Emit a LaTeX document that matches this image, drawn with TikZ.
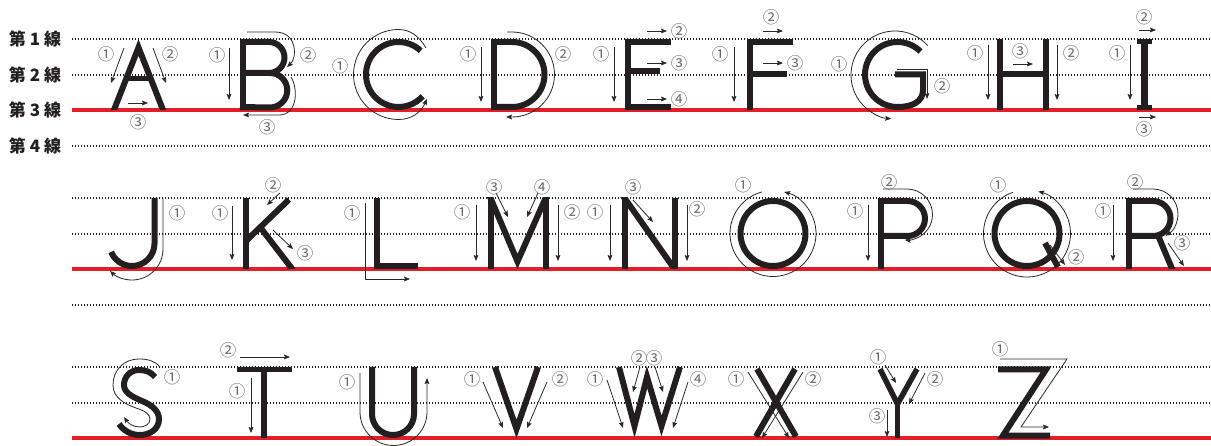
\documentclass[tikz,border=0pt]{standalone}
\usepackage{fontspec}
\newfontfamily\cjk{Noto Sans CJK JP}[WordSpace=2.0]
\newfontfamily\circfont{Noto Sans CJK JP}
\usetikzlibrary{arrows.meta}
\definecolor{ink}{RGB}{35,31,32}
\definecolor{guidered}{RGB}{228,30,38}
\definecolor{numgray}{RGB}{105,105,105}
\definecolor{arrgray}{RGB}{40,40,40}
\begin{document}
\begin{tikzpicture}[x=1pt,y=-1pt,
  guide/.style={line width=1.2pt, draw=ink, dash pattern=on 1.2pt off 1.8pt},
  redline/.style={line width=3.2pt, draw=guidered},
  letter/.style={line width=6pt, draw=ink, line join=miter},
  arr/.style={line width=0.8pt, draw=arrgray, -{Stealth[length=6pt,width=4.8pt,inset=1pt]}},
  num/.style={font=\circfont\fontsize{16.5}{16.5}\selectfont, text=numgray, inner sep=0pt},
  rowlab/.style={font=\cjk\bfseries\fontsize{17}{17}\selectfont, text=ink, inner sep=0pt}]
\useasboundingbox (0,0) rectangle (1211,446);
% guide lines
\foreach \yy in {39,75,146,198,234,305,367,403} \draw[guide] (72,\yy) -- (1211,\yy);
\foreach \yy in {110,269,438} \draw[redline] (72,\yy) -- (1211,\yy);
% row labels
\node[rowlab] (lab1) at (35,39) {第 1 線};
\node[rowlab] (lab2) at (35,75) {第 2 線};
\node[rowlab] (lab3) at (35,110) {第 3 線};
\node[rowlab] (lab4) at (35,146) {第 4 線};

% ================= ROW 1 =================
% A
\begin{scope}
\clip (0,39) rectangle (1211,110);
\draw[letter] (112,115) -- (138.5,47.5) -- (165,115);
\end{scope}
\draw[letter, line width=5pt] (126,78.5) -- (151,78.5);
\draw[arr] (124,48) -- (111,83);
\draw[arr] (153,48) -- (166,83);
\draw[arr] (128,103) -- (148,103);
\node[num] (A1) at (106,54) {①};
\node[num] (A2) at (170,54) {②};
\node[num] (A3) at (138,122) {③};
% B
\draw[letter] (242.5,39) -- (242.5,110);
\draw[letter] (240,42) -- (269,42) arc[start angle=-90,end angle=90,radius=15.5] -- (240,73);
\draw[letter] (269,73) -- (270,73) arc[start angle=-90,end angle=90,radius=17.25] -- (240,107);
\draw[arr] (229,48) -- (229,100);
\draw[arr] (247,32) -- (275,32) .. controls (298,32) and (297,58) .. (287,67);
\draw[arr] (291,77) .. controls (298,88) and (298,114) .. (280,115) -- (243,115);
\node[num] (B1) at (217,55) {①};
\node[num] (B2) at (308,55) {②};
\node[num] (B3) at (267,127) {③};
% C
\draw[letter] (398.5,74.5) ++(-47:32.5) arc[start angle=-47,end angle=-318,radius=32.5];
\draw[arr] (426,48) .. controls (419,36) and (410,29.5) .. (398.5,29.5) arc[start angle=-90,end angle=-270,radius=45] .. controls (412,119.5) and (421,112) .. (427,99);
\node[num] (C1) at (340,66) {①};
% D
\draw[letter] (494,39) -- (494,110);
\draw[letter] (491,42) -- (512,42) arc[start angle=-90,end angle=90,radius=32.5] -- (491,107);
\draw[arr] (481,47) -- (481,102);
\draw[arr] (507,32) -- (512,32) arc[start angle=-90,end angle=90,radius=42.5] -- (506,117);
\node[num] (D1) at (468,54) {①};
\node[num] (D2) at (563,54) {②};
% E
\draw[letter] (628,39) -- (628,110);
\draw[letter] (625,42) -- (671,42);
\draw[letter] (625,71) -- (660,71);
\draw[letter] (625,107) -- (671,107);
\draw[arr] (614,47) -- (614,102);
\draw[arr] (647,31) -- (667,31);
\draw[arr] (647,63) -- (667,63);
\draw[arr] (647,99) -- (667,99);
\node[num] (E1) at (601,54) {①};
\node[num] (E2) at (679,31) {②};
\node[num] (E3) at (679,63) {③};
\node[num] (E4) at (679,99) {④};
% F
\draw[letter] (749.5,39) -- (749.5,110);
\draw[letter] (747,42) -- (793,42);
\draw[letter] (747,74.5) -- (787,74.5);
\draw[arr] (734,47) -- (734,102);
\draw[arr] (763,31) -- (783,31);
\draw[arr] (763,63) -- (783,63);
\node[num] (F1) at (720,54) {①};
\node[num] (F2) at (771,17) {②};
\node[num] (F3) at (795,63) {③};
% G
\draw[letter] (895,74.5) -- (923,74.5) -- (923,90) .. controls (923,102) and (912,107) .. (897.5,107) arc[start angle=90,end angle=315,radius=32.5];
\draw[arr] (895,75) ++(-42:44) arc[start angle=-42,end angle=-265,radius=44];
\draw[arr] (897,69) -- (927,69) -- (927,99);
\node[num] (G1) at (839,64) {①};
\node[num] (G2) at (942,86) {②};
% H
\draw[letter] (999.5,39) -- (999.5,110);
\draw[letter] (1045.5,39) -- (1045.5,110);
\draw[letter] (999.5,74) -- (1045.5,74);
\draw[arr] (988,45) -- (988,100);
\draw[arr] (1057,45) -- (1057,100);
\draw[arr] (1013,64) -- (1033,64);
\node[num] (H1) at (975,53) {①};
\node[num] (H2) at (1071,53) {②};
\node[num] (H3) at (1020,51) {③};
% I
\draw[letter, line width=6.5pt] (1144.5,39) -- (1144.5,110);
\draw[letter, line width=5pt] (1137,41.5) -- (1152,41.5);
\draw[letter, line width=5pt] (1137,107.5) -- (1152,107.5);
\draw[arr] (1130,45) -- (1130,100);
\draw[arr] (1139,30) -- (1156,30);
\draw[arr] (1139,117) -- (1156,117);
\node[num] (I1) at (1117,53) {①};
\node[num] (I2) at (1144,17) {②};
\node[num] (I3) at (1144,129) {③};

% ================= ROW 2 =================
% J
\draw[letter] (154.5,198) -- (154.5,243.5) arc[start angle=0,end angle=158,radius=22.5];
\draw[arr] (163,199) -- (163,249) arc[start angle=0,end angle=135,radius=31];
\node[num] (J1) at (177,213) {①};
% K
\begin{scope}
\clip (0,198) rectangle (1211,269);
\draw[letter] (245.5,198) -- (245.5,269);
\draw[letter] (289,199.5) -- (247,240);
\draw[letter] (260,227) -- (293,270);
\end{scope}
\draw[arr] (232,206) -- (232,260);
\draw[arr] (280,193) -- (267,205);
\draw[arr] (273,230) -- (293,249);
\node[num] (K1) at (220,213) {①};
\node[num] (K2) at (273,185) {②};
\node[num] (K3) at (305,253) {③};
% L
\draw[letter] (376.5,198) -- (376.5,266) -- (418,266);
\draw[arr] (365,203) -- (365,279) -- (410,279);
\node[num] (L1) at (352,213) {①};
% M
\begin{scope}
\clip (0,198) rectangle (1211,269);
\draw[letter] (490.5,198) -- (490.5,269);
\draw[letter] (545.5,198) -- (545.5,269);
\draw[letter] (488.8,194) -- (517.5,261.5) -- (547.3,194);
\end{scope}
\draw[arr] (476,205) -- (476,261);
\draw[arr] (558,205) -- (558,261);
\draw[arr] (496,193) -- (508,217);
\draw[arr] (538,193) -- (527,217);
\node[num] (M1) at (462,212) {①};
\node[num] (M2) at (572,212) {②};
\node[num] (M3) at (494,187) {③};
\node[num] (M4) at (542,187) {④};
% N
\begin{scope}
\clip (0,198) rectangle (1211,269);
\draw[letter] (624.5,198) -- (624.5,269);
\draw[letter] (674.5,198) -- (674.5,269);
\draw[letter] (621.7,194) -- (677.3,273);
\end{scope}
\draw[arr] (610,205) -- (610,261);
\draw[arr] (687,205) -- (687,261);
\draw[arr] (633,200) -- (653,222);
\node[num] (N1) at (595,212) {①};
\node[num] (N2) at (697,209) {②};
\node[num] (N3) at (633,187) {③};
% O
\draw[letter] (773,233.5) circle[radius=32.5];
\draw[arr] (773,233.5) ++(-105:43) arc[start angle=-105,end angle=-435,radius=43];
\node[num] (O1) at (743,185) {①};
% P
\draw[letter] (881,198) -- (881,269);
\draw[letter] (878.5,201) -- (907.5,201) arc[start angle=-90,end angle=90,radius=17.5] -- (878.5,236);
\draw[arr] (868,205) -- (868,261);
\draw[arr] (883,189) -- (907,189) arc[start angle=-90,end angle=95,radius=25.5];
\node[num] (P1) at (855,211) {①};
\node[num] (P2) at (889,182) {②};
% Q
\draw[letter] (1027,233.5) circle[radius=32.5];
\draw[letter] (1045,243) -- (1058,267);
\draw[arr] (1027,233.5) ++(-109:43.5) arc[start angle=-109,end angle=-435,radius=43.5];
\draw[arr] (1050,245) -- (1065,265);
\node[num] (Q1) at (998,185) {①};
\node[num] (Q2) at (1076,257) {②};
% R
\begin{scope}
\clip (0,198) rectangle (1211,269);
\draw[letter] (1128.5,198) -- (1128.5,269);
\draw[letter] (1126,201) -- (1153,201) arc[start angle=-90,end angle=90,radius=17.5] -- (1126,236);
\draw[letter] (1157,233) -- (1173,271);
\end{scope}
\draw[arr] (1113,205) -- (1113,261);
\draw[arr] (1133,189) -- (1153,189) arc[start angle=-90,end angle=60,radius=25];
\draw[arr] (1168,243) -- (1184,266);
\node[num] (R1) at (1103,211) {①};
\node[num] (R2) at (1135,182) {②};
\node[num] (R3) at (1182,243) {③};

% ================= ROW 3 =================
% S
\draw[letter] (155,377) .. controls (151,372) and (146,370) .. (139,370) .. controls (130,370) and (124,377) .. (124,385) .. controls (124,393) and (133,397) .. (142,401) .. controls (152,405) and (159,411) .. (159,419) .. controls (159,429) and (150,435) .. (140,435) .. controls (131,435) and (124,431) .. (119,424);
\draw[arr] (160,367) .. controls (155,361) and (148,359) .. (139,359) .. controls (124,359) and (113,370) .. (113,385) .. controls (113,398) and (125,404) .. (136,408) .. controls (145,411) and (150,414) .. (150,419) .. controls (150,424) and (145,427) .. (140,427) .. controls (133,427) and (128,423) .. (124,417);
\node[num] (S1) at (172,377) {①};
% T
\draw[letter, line width=5pt] (237,369.5) -- (292,369.5);
\draw[letter] (263.5,367) -- (263.5,438);
\draw[arr] (251,378) -- (251,433);
\draw[arr] (240,357) -- (290,357);
\node[num] (T1) at (237,391) {①};
\node[num] (T2) at (228,350) {②};
% U
\draw[letter] (372,367) -- (372,414) arc[start angle=180,end angle=0,radius=21] -- (414,367);
\draw[arr] (360,373) -- (360,412) arc[start angle=180,end angle=0,radius=33.5] -- (427,378);
\node[num] (U1) at (347,382) {①};
% V
\draw[letter] (495,367) -- (516.5,429) -- (538,367);
\draw[arr] (483,382) -- (503,428);
\draw[arr] (547,382) -- (527,428);
\node[num] (V1) at (472,379) {①};
\node[num] (V2) at (560,379) {②};
% W
\draw[letter] (619,367) -- (634.5,426) -- (647,377) -- (661.5,426) -- (680,367);
\draw[arr] (607,380) -- (623,428);
\draw[arr] (640,367) -- (633,392);
\draw[arr] (655,367) -- (663,392);
\draw[arr] (688,382) -- (673,428);
\node[num] (W1) at (595,379) {①};
\node[num] (W2) at (639,358) {②};
\node[num] (W3) at (654,358) {③};
\node[num] (W4) at (698,379) {④};
% X
\draw[letter] (757,369) -- (796,436.5);
\draw[letter] (795,369) -- (756,436.5);
\draw[arr] (748,372) -- (789,438);
\draw[arr] (803,372) -- (762,438);
\node[num] (X1) at (736,379) {①};
\node[num] (X2) at (813,379) {②};
% Y
\draw[letter, line width=5.5pt] (880,369) -- (897.5,404) -- (917,369);
\draw[letter, line width=5.5pt] (897.5,400) -- (897.5,438);
\draw[arr] (885,365) -- (896,383);
\draw[arr] (925,373) -- (909,404);
\draw[arr] (887,410) -- (887,437);
\node[num] (Y1) at (878,357) {①};
\node[num] (Y2) at (935,379) {②};
\node[num] (Y3) at (877,416) {③};
% Z
\draw[letter] (998,369.5) -- (1046,369.5) -- (1003,435.5) -- (1050,435.5);
\draw[arr] (1000,359) -- (1067,359) -- (1021,427) -- (1049,427);
\node[num] (Z1) at (1000,349) {①};
\end{tikzpicture}
\end{document}
